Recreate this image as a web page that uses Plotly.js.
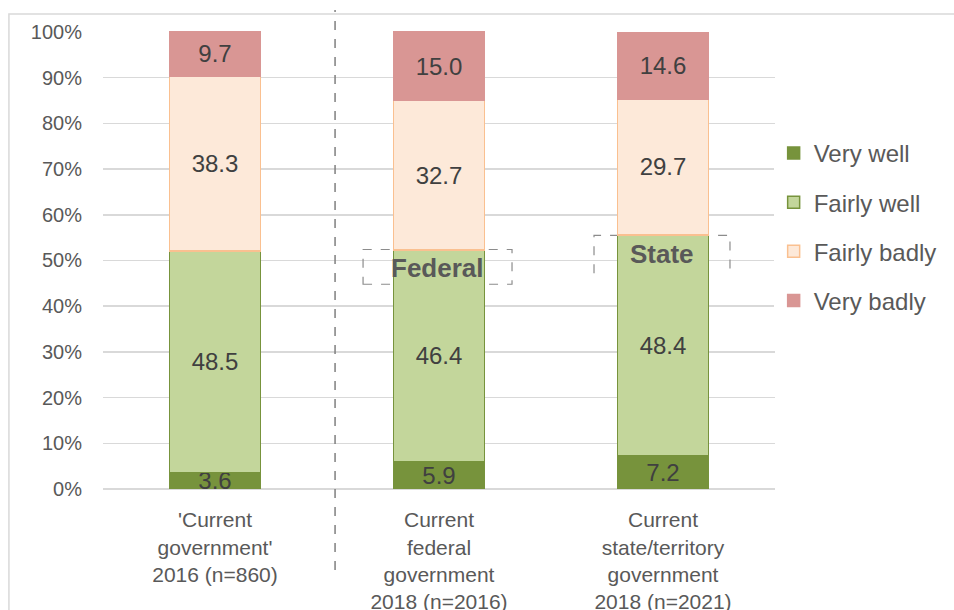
<!DOCTYPE html>
<html>
<head>
<meta charset="utf-8">
<script src="https://cdn.plot.ly/plotly-3.0.1.min.js"></script>
<style>html,body{margin:0;padding:0;background:#fff;}#chart{width:954px;height:610px;}</style>
</head>
<body>
<div id="chart"></div>
<script>
const categories = [
  "'Current<br>government'<br>2016 (n=860)",
  "Current<br>federal<br>government<br>2018 (n=2016)",
  "Current<br>state/territory<br>government<br>2018 (n=2021)"
];
const veryWell = [3.6, 5.9, 7.2];
const fairlyWell = [48.5, 46.4, 48.4];
const fairlyBadly = [38.3, 32.7, 29.7];
const veryBadly = [9.7, 15.0, 14.6];
const yTickVals = [0, 10, 20, 30, 40, 50, 60, 70, 80, 90, 100];
const yTickText = ['0%', '10%', '20%', '30%', '40%', '50%', '60%', '70%', '80%', '90%', '100%'];

const FONT = 'Liberation Sans, Arial, sans-serif';
function bar(name, vals, fill, line) {
  return {
    type: 'bar', name: name, x: categories, y: vals,
    text: vals.map(v => v.toFixed(1)),
    textposition: 'inside', insidetextanchor: 'middle', constraintext: 'none',
    textfont: {family: FONT, size: 24, color: '#404040'},
    marker: {color: fill, line: {color: line, width: 1.5}},
    width: 0.406, legendgroup: name, hoverinfo: 'skip'
  };
}
const data = [
  bar('Very well', veryWell, '#77933C', '#77933C'),
  bar('Fairly well', fairlyWell, '#C3D69B', '#77933C'),
  bar('Fairly badly', fairlyBadly, '#FDE9D9', '#FAC090'),
  bar('Very badly', veryBadly, '#D99694', '#D99694')
];
const layout = {
  width: 954, height: 610,
  margin: {l: 103, r: 179, t: 31, b: 121},
  paper_bgcolor: '#fff', plot_bgcolor: '#fff',
  barmode: 'stack',
  font: {family: FONT, color: '#595959', size: 20},
  showlegend: true,
  legend: {x: 0.998, xanchor: 'left', y: 0.782, yanchor: 'top',
           traceorder: 'grouped', tracegroupgap: 15,
           font: {family: FONT, size: 24, color: '#595959'}},
  xaxis: {range: [-0.5, 2.5], showgrid: false, zeroline: false, showline: false,
          ticks: 'outside', ticklen: 12, tickcolor: 'rgba(0,0,0,0)',
          tickfont: {family: FONT, size: 21, color: '#595959'}},
  yaxis: {range: [0, 100.2], tickvals: yTickVals, ticktext: yTickText,
          showgrid: true, gridcolor: '#D9D9D9', gridwidth: 1.5,
          zeroline: true, zerolinecolor: '#D9D9D9', zerolinewidth: 1.5,
          showline: false, ticks: 'outside', ticklen: 16, tickcolor: 'rgba(0,0,0,0)',
          tickfont: {family: FONT, size: 20, color: '#595959'}},
  shapes: [
    {type: 'rect', xref: 'paper', yref: 'paper', x0: -0.14, x1: 1.4, y0: -0.4, y1: 1.037,
     line: {color: '#D9D9D9', width: 1.5}, fillcolor: 'rgba(0,0,0,0)', layer: 'below'},
    {type: 'line', xref: 'x', yref: 'paper', x0: 0.536, x1: 0.536, y0: -0.177, y1: 1.046,
     line: {color: '#7F7F7F', width: 1.5, dash: 'dash'}},
    {type: 'rect', xref: 'x', yref: 'y', x0: 0.661, x1: 1.326, y0: 44.8, y1: 52.4,
     line: {color: '#8C8C8C', width: 1.2, dash: 'dash'}, fillcolor: 'rgba(0,0,0,0)', layer: 'between'},
    {type: 'path', xref: 'x', yref: 'y', path: 'M 1.692 47.2 L 1.692 55.5 L 2.299 55.5 L 2.299 47.2',
     line: {color: '#8C8C8C', width: 1.2, dash: 'dash'}, layer: 'between'}
  ],
  annotations: [
    {x: 0.993, y: 48.4, xref: 'x', yref: 'y', text: '<b>Federal</b>', showarrow: false,
     font: {family: FONT, size: 26, color: '#595959'}},
    {x: 1.995, y: 51.5, xref: 'x', yref: 'y', text: '<b>State</b>', showarrow: false,
     font: {family: FONT, size: 26, color: '#595959'}}
  ]
};
Plotly.newPlot('chart', data, layout, {displayModeBar: false, staticPlot: true});
</script>
</body>
</html>
